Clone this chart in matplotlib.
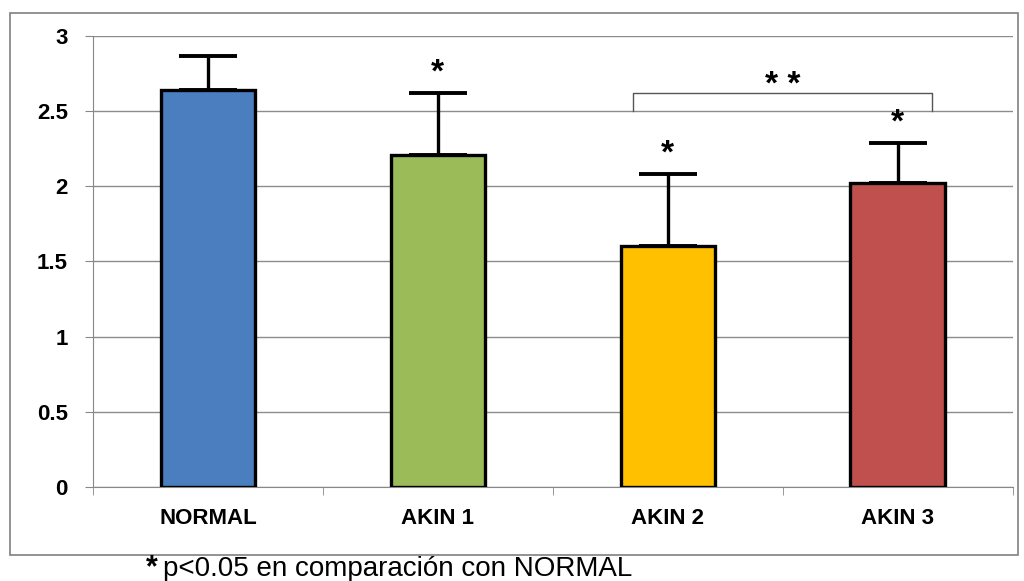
import matplotlib.pyplot as plt
from matplotlib.patches import Rectangle

groups = ["NORMAL", "AKIN 1", "AKIN 2", "AKIN 3"]
means = [2.64, 2.21, 1.60, 2.02]
errors = [0.23, 0.41, 0.48, 0.27]
signif = ["", "*", "*", "*"]
colors = ["#4a7ebf", "#9bbb59", "#ffc000", "#c0504d"]
bracket_pair = (2, 3)
bracket_top = 2.62
bracket_drop = 0.12
bracket_label = "* *"
footnote = "p<0.05 en comparación con NORMAL"

plt.rcParams["font.family"] = ["Liberation Sans", "DejaVu Sans"]

fig = plt.figure(figsize=(10.24, 5.81), dpi=100)
ax = fig.add_axes([0.0908, 0.162, 0.898, 0.776])

x = range(len(groups))
ax.bar(x, means, width=0.41, color=colors, edgecolor="black", linewidth=2.4, zorder=3)
ax.errorbar(x, means, yerr=[[0] * len(errors), errors], fmt="none", ecolor="black",
            elinewidth=2.4, capsize=21, capthick=2.8, zorder=2)

for i, s in enumerate(signif):
    if s:
        ax.text(i, means[i] + errors[i] + 0.03, s, ha="center", va="bottom",
                fontsize=24, fontweight="bold")

# comparison bracket between AKIN 2 and AKIN 3
a, b = bracket_pair
ax.plot([a - 0.15, a - 0.15, b + 0.15, b + 0.15],
        [bracket_top - bracket_drop, bracket_top, bracket_top, bracket_top - bracket_drop],
        color="#555555", linewidth=1.0, zorder=4)
ax.text((a + b) / 2, bracket_top - 0.05, bracket_label, ha="center", va="bottom",
        fontsize=24, fontweight="bold")

ax.set_xlim(-0.5, len(groups) - 0.5)
ax.set_ylim(0, 3)
ax.set_yticks([0, 0.5, 1, 1.5, 2, 2.5, 3])
ax.set_yticklabels(["0", "0.5", "1", "1.5", "2", "2.5", "3"], fontsize=16, fontweight="bold")
ax.set_xticks(list(x))
ax.set_xticklabels(groups, fontsize=16, fontweight="bold")
ax.tick_params(axis="x", length=0, pad=15)
ax.tick_params(axis="y", length=6, color="#888888", pad=12)

# category boundary ticks on the x axis
ax.set_xticks([i - 0.5 for i in range(len(groups) + 1)], minor=True)
ax.tick_params(axis="x", which="minor", length=6, color="#888888")

ax.yaxis.grid(True, color="#8c8c8c", linewidth=1.0, zorder=0)
ax.set_axisbelow(True)
for side in ["top", "right"]:
    ax.spines[side].set_visible(False)
ax.spines["left"].set_color("#888888")
ax.spines["bottom"].set_color("#888888")

# outer chart frame
fig.patches.append(Rectangle((10 / 1024, 1 - 555 / 581), 1008 / 1024, 542 / 581,
                             transform=fig.transFigure, fill=False,
                             edgecolor="#808080", linewidth=1.2))

fig.text(146 / 1024, 1 - 576 / 581, "*", fontsize=22, fontweight="bold", va="baseline")
fig.text(163 / 1024, 1 - 576 / 581, footnote, fontsize=20, va="baseline")

fig.savefig("out.png", dpi=100)
